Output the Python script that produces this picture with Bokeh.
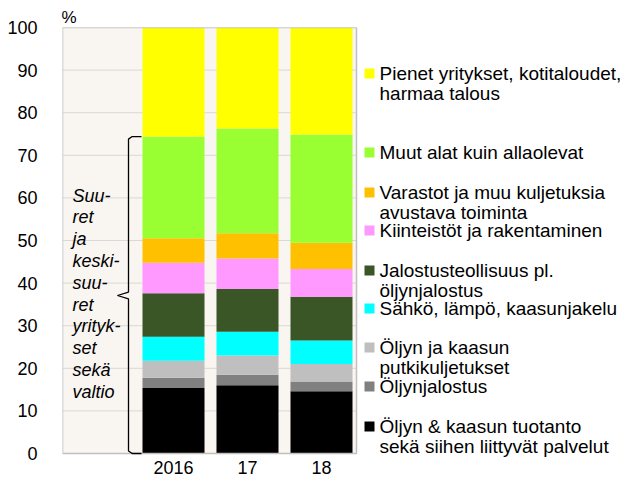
from bokeh.plotting import figure
from bokeh.models import Range1d, FixedTicker
from bokeh.core.properties import value
from bokeh.embed import file_html
from bokeh.resources import INLINE

# ---------------- data ----------------
years = ["2016", "17", "18"]
series_names = [
    "Öljyn & kaasun tuotanto\nsekä siihen liittyvät palvelut",
    "Öljynjalostus",
    "Öljyn ja kaasun\nputkikuljetukset",
    "Sähkö, lämpö, kaasunjakelu",
    "Jalostusteollisuus pl.\nöljynjalostus",
    "Kiinteistöt ja rakentaminen",
    "Varastot ja muu kuljetuksia\navustava toiminta",
    "Muut alat kuin allaolevat",
    "Pienet yritykset, kotitaloudet,\nharmaa talous",
]
colors = ["#000000", "#808080", "#bfbfbf", "#00ffff", "#3a5526",
          "#ff99ff", "#ffc000", "#99ff33", "#ffff00"]
oil_gas_prod = [15.4, 16.0, 14.6]
oil_refining = [2.4, 2.5, 2.3]
pipelines = [4.0, 4.5, 4.1]
electricity = [5.6, 5.6, 5.5]
manufacturing = [10.2, 10.0, 10.3]
real_estate = [7.2, 7.2, 6.5]
warehousing = [5.7, 5.9, 6.2]
other_sectors = [23.9, 24.6, 25.4]
small_firms = [25.6, 23.7, 25.1]
series = [oil_gas_prod, oil_refining, pipelines, electricity, manufacturing,
          real_estate, warehousing, other_sectors, small_firms]
y_ticks = list(range(0, 101, 10))
brace_text = ["Suu-", "ret", "ja", "keski-", "suu-", "ret", "yrityk-", "set", "sekä", "valtio"]

# ---------------- layout helpers ----------------
FONT = "Liberation Sans"
PX_PER_X = 74.0           # pixels per category step
X0 = -0.5
PLOT_W = 632
PLOT_H = 479
FRAME_LEFT = 62
FRAME_W = PLOT_W - FRAME_LEFT
X1 = X0 + FRAME_W / PX_PER_X
CHART_RIGHT = X0 + (356 - 62) / PX_PER_X
PX_PER_Y = 426 / 100.0
Y_BOTTOM = -(PLOT_H - 453) / PX_PER_Y

def px_to_x(px):
    return X0 + (px - 62) / PX_PER_X

def px_to_y(py):
    return (453 - py) / PX_PER_Y

p = figure(width=PLOT_W, height=PLOT_H, output_backend="svg", toolbar_location=None,
           x_range=Range1d(X0, X1), y_range=Range1d(Y_BOTTOM, 100),
           min_border_left=FRAME_LEFT, min_border_right=0, min_border_top=27,
           min_border_bottom=0)
p.outline_line_color = None
p.background_fill_color = "white"
p.xgrid.grid_line_color = None
p.ygrid.grid_line_color = None
p.xaxis.visible = False

# "%" as title above the value axis
p.title.text = "%"
p.title.align = "left"
p.title.offset = -1
p.title.standoff = 2
p.title.text_font = FONT
p.title.text_font_size = "17px"
p.title.text_font_style = "normal"
p.title.text_color = "black"

# plot-area background
p.quad(left=[X0], right=[CHART_RIGHT], bottom=[0], top=[100],
       fill_color="#f9f5f0", line_color=None)
# grid lines
p.segment(x0=[X0] * len(y_ticks), x1=[CHART_RIGHT] * len(y_ticks),
          y0=y_ticks, y1=y_ticks, line_color="#d9d9d9", line_width=1)

# stacked bars
xs = [1, 2, 3]
bottom = [0.0, 0.0, 0.0]
for vals, col in zip(series, colors):
    top = [b + v for b, v in zip(bottom, vals)]
    p.vbar(x=xs, width=62 / PX_PER_X, bottom=bottom, top=top,
           fill_color=col, line_color=None)
    bottom = top

# border of the plot area
p.quad(left=[X0], right=[CHART_RIGHT], bottom=[0], top=[100],
       fill_color=None, line_color="#c0c0c0", line_width=1.5)

# value axis
p.yaxis.ticker = FixedTicker(ticks=y_ticks)
p.yaxis.axis_line_color = None
p.yaxis.major_tick_line_color = None
p.yaxis.minor_tick_line_color = None
p.yaxis.major_label_standoff = 19
p.yaxis.major_label_text_font = FONT
p.yaxis.major_label_text_font_size = "18px"
p.yaxis.major_label_text_color = "black"

# category labels
p.text(x=xs, y=[px_to_y(467)] * len(xs), text=years, text_font=value(FONT),
       text_font_size="18px", text_baseline="middle", text_align="center",
       text_color="black")

# brace for large firms
big_top = sum(s[0] for s in series[:-1])
bx = px_to_x(128)
bx_bar = px_to_x(141)
bx_mid = px_to_x(117)
mid = px_to_y(295)
p.line(x=[bx_bar, bx + 0.05, bx, bx, bx_mid],
       y=[big_top, big_top, big_top - 0.6, mid + 0.8, mid],
       line_color="black", line_width=1.3)
p.line(x=[bx_mid, bx, bx, bx + 0.05, bx_bar],
       y=[mid, mid - 0.8, 0.6, 0, 0],
       line_color="black", line_width=1.3)

# italic text beside the brace
ty0 = px_to_y(195)
tstep = 21.8 / PX_PER_Y
p.text(x=[px_to_x(72)] * len(brace_text),
       y=[ty0 - i * tstep for i in range(len(brace_text))],
       text=brace_text, text_font=value(FONT), text_font_size="18px",
       text_font_style="italic", text_baseline="middle", text_align="left",
       text_color="black")

# legend (top to bottom)
legend_first_line_px = [73, 152, 192, 230, 270, 308, 347, 386, 426]
line_step = 20 / PX_PER_Y
order = list(range(len(series)))[::-1]
lx_sq = px_to_x(369)
lx_txt = px_to_x(379)
for py, idx in zip(legend_first_line_px, order):
    y = px_to_y(py)
    p.scatter(x=[lx_sq], y=[y], marker="square", size=10,
              fill_color=colors[idx], line_color=None)
    lines = series_names[idx].split("\n")
    p.text(x=[lx_txt] * len(lines), y=[y - i * line_step for i in range(len(lines))],
           text=lines, text_font=value(FONT), text_font_size="19px",
           text_baseline="middle", text_align="left", text_color="black")

open("out.html", "w").write(file_html(p, INLINE))
